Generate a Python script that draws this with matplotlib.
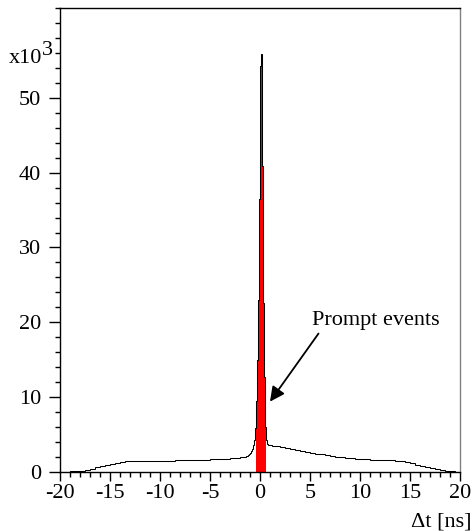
import numpy as np
import matplotlib.pyplot as plt
from matplotlib.ticker import FixedLocator, MultipleLocator, FuncFormatter

# bin edges: 0.5 ns bins in the tails, 0.1 ns bins around the prompt peak
left_edges = np.arange(-20.0, -1.5, 0.5)
mid_edges = np.arange(-1.5, 1.5, 0.1)
right_edges = np.arange(1.5, 20.0001, 0.5)
edges = np.round(np.concatenate([left_edges, mid_edges, right_edges]), 2)

counts_left = [20, 40, 70, 110, 200, 330, 460, 620, 780, 960,
               1120, 1260, 1380, 1460, 1500, 1510, 1500, 1510, 1500, 1520,
               1510, 1520, 1530, 1540, 1560, 1560, 1590, 1610, 1630, 1660,
               1680, 1710, 1740, 1770, 1810, 1860, 1950]
counts_mid = [2020, 2080, 2150, 2240, 2350, 2500, 2750, 3050, 3550, 4300,
              5900, 9500, 15000, 23000, 36500, 54200, 55900, 40900, 22600, 12700,
              6000, 4300, 3800, 3650, 3600, 3580, 3550, 3520, 3500, 3480]
counts_right = [3420, 3350, 3220, 3100, 2960, 2820, 2680, 2560, 2450, 2340,
                2230, 2130, 2030, 1950, 1880, 1820, 1770, 1720, 1690, 1670,
                1660, 1640, 1600, 1560, 1500, 1420, 1300, 1150, 980, 810,
                640, 480, 350, 240, 150, 80, 30]
counts = np.array(counts_left + counts_mid + counts_right)

prompt_lo, prompt_hi = -0.4, 0.6

plt.rcParams['font.family'] = ['Liberation Serif', 'DejaVu Serif']

fig = plt.figure(figsize=(4.77, 5.31), dpi=100)
ax = fig.add_axes([60/477, 59/531, 400/477, 464/531])

# red prompt window
centers = 0.5*(edges[:-1] + edges[1:])
sel = (centers > prompt_lo) & (centers < prompt_hi)
idx = np.where(sel)[0]
ax.stairs(counts[idx], edges[idx[0]:idx[-1]+2], fill=True, color='#ff0000', lw=0)

# full histogram outline
ax.stairs(counts, edges, color='black', lw=0.75)

ax.set_xlim(-20, 20)
ax.set_ylim(0, 62000)

ax.xaxis.set_major_locator(MultipleLocator(5))
ax.xaxis.set_minor_locator(MultipleLocator(1))
ax.yaxis.set_major_locator(FixedLocator([0, 10000, 20000, 30000, 40000, 50000]))
ax.yaxis.set_minor_locator(MultipleLocator(2000))
ax.yaxis.set_major_formatter(FuncFormatter(lambda v, p: '%d' % round(v/1000)))
ax.xaxis.set_major_formatter(FuncFormatter(lambda v, p: '%d' % round(v)))

ax.tick_params(axis='x', which='major', direction='out', length=6.5, width=1, labelsize=16, pad=2)
ax.tick_params(axis='x', which='minor', direction='out', length=3.6, width=1)
ax.tick_params(axis='y', which='major', direction='out', length=7.7, width=1, labelsize=16, pad=6)
ax.tick_params(axis='y', which='minor', direction='out', length=3.6, width=1)

for s in ['left', 'bottom', 'top']:
    ax.spines[s].set_linewidth(1)
    ax.spines[s].set_color('black')
ax.spines['right'].set_color('#808080')
ax.spines['right'].set_linewidth(1)

# multiplier label
fig.text(9/477, 1 - 63/531, 'x10', fontsize=16, ha='left', va='baseline')
fig.text(42/477, 1 - 55/531, '3', fontsize=16, ha='left', va='baseline')

# x axis title
fig.text(472/477, 5/531, '\u0394t [ns]', fontsize=16, ha='right', va='baseline')

ax.annotate('', xy=(1.0, 9400), xytext=(5.85, 18500),
            arrowprops=dict(arrowstyle='-|>', color='black', lw=1.3,
                            mutation_scale=22, shrinkA=0, shrinkB=0))
ax.text(5.17, 19650, 'Prompt events', fontsize=16, ha='left', va='baseline')

fig.savefig('out.png', dpi=100)
